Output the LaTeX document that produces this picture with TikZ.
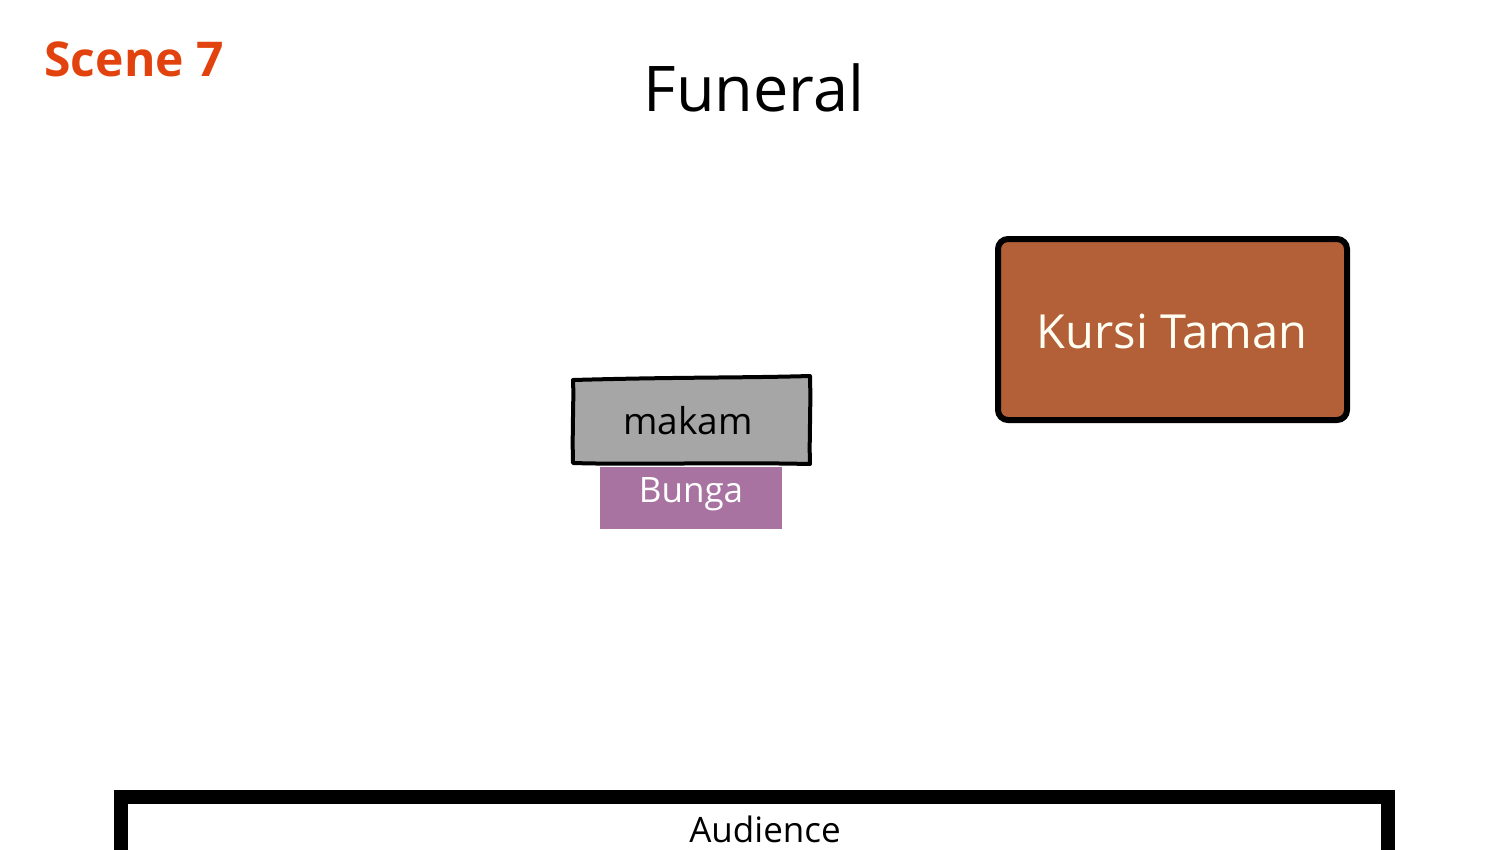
\documentclass[tikz,border=0pt]{standalone}
\usepackage{fontspec}
\setmainfont{Open Sans}
\usepackage{xcolor}
\usetikzlibrary{positioning}
\definecolor{sceneorange}{HTML}{E2430E}
\definecolor{benchbrown}{HTML}{B35F37}
\definecolor{flowerpurple}{HTML}{A873A1}
\definecolor{tombgray}{HTML}{A6A6A6}

\begin{document}
\begin{tikzpicture}[x=1pt, y=-1pt,
    label/.style={inner sep=0pt, font=\fontsize{36}{40}\selectfont},
    prop/.style={draw=none, inner sep=0pt}]
  \useasboundingbox (0,0) rectangle (1509,849);
  \fill[white] (0,0) rectangle (1509,849);
  % headings
  \node[anchor=base west, text=sceneorange, font=\fontsize{48}{52}\selectfont\bfseries] (scene) at (41,76) {Scene 7};
  \node[anchor=base, font=\fontsize{63}{68}\selectfont] (title) at (754,111) {Funeral};
  % garden bench
  \draw[line width=6, rounded corners=10, fill=benchbrown] (998,239) rectangle (1347,420);
  \node[label, text=white!95!yellow, font=\fontsize{47}{52}\selectfont] (bench) at (1172,331) {Kursi Taman};
  % grave, hand drawn outline
  \draw[line width=4, fill=tombgray, line join=round]
    (573,380) .. controls (680,377) and (740,378) .. (810,376)
    .. controls (811,410) and (809,440) .. (810,464)
    .. controls (720,462) and (640,465) .. (573,463)
    .. controls (572,430) and (574,400) .. (573,380) -- cycle;
  \node[label, font=\fontsize{37}{40}\selectfont] (grave) at (688,421) {makam};
  % flowers
  \fill[flowerpurple] (600,467) rectangle (782,529);
  \node[label, text=white, font=\fontsize{35}{40}\selectfont] (flowers) at (691,494) {Bunga};
  % audience edge
  \draw[line width=14, line join=miter] (121,870) -- (121,797) -- (1388,797) -- (1388,870);
  \node[label, font=\fontsize{35}{40}\selectfont] (audience) at (765,829) {Audience};
\end{tikzpicture}
\end{document}
